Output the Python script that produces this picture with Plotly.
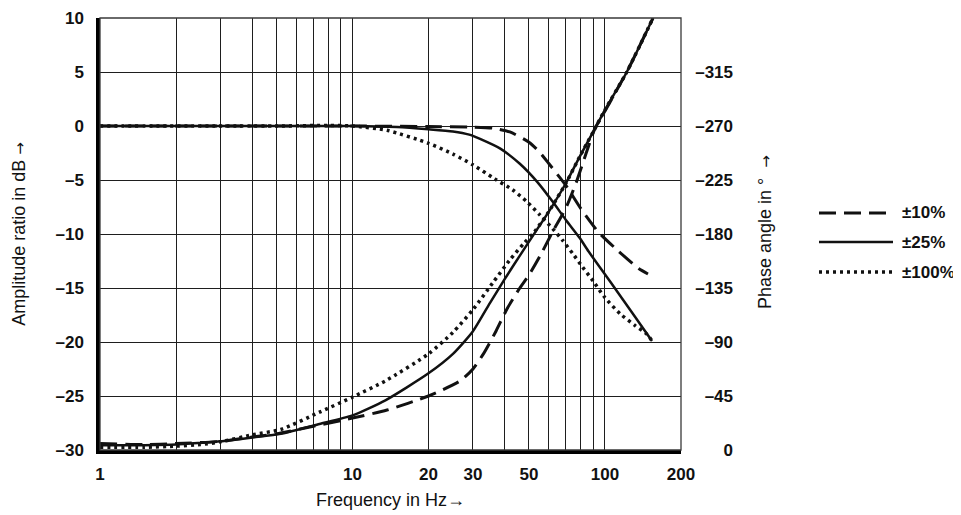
import math
import plotly.graph_objects as go

# ---------------- data ----------------
series_names = ["±10%", "±25%", "±100%"]

# amplitude ratio in dB
freq_amp_10 = [1, 2, 5, 10, 20, 30, 36, 42, 50, 55, 60, 70, 80, 94, 112, 136, 148]
amp_10 = [0, 0, 0, 0, -0.05, -0.1, -0.2, -0.55, -1.5, -2.4, -3.5, -5.5, -7.6, -9.8, -11.5, -13.2, -13.7]

freq_amp_25 = [1, 5, 10, 15, 20, 25, 29, 32, 38.5, 46, 54, 62, 70, 79.6, 86, 107, 130, 153.5]
amp_25 = [0, 0, 0, -0.1, -0.3, -0.5, -0.8, -1.2, -2.1, -3.5, -5.2, -7.0, -8.7, -10.4, -11.6, -14.7, -17.5, -19.9]

freq_amp_100 = [1, 5, 8, 10, 13.7, 20, 25, 30, 36.6, 43, 49, 55, 62, 68, 75, 80, 90, 100, 115, 132, 147, 153.5]
amp_100 = [0, 0, 0.05, 0, -0.4, -1.6, -2.6, -3.6, -4.9, -5.9, -7.0, -8.2, -9.5, -10.6, -11.9, -12.8, -14.4, -15.9, -17.4, -18.5, -19.3, -19.9]

# phase angle in degrees
freq_ph_10 = [1, 1.5, 2, 3, 4, 5, 7, 10, 13.7, 20, 26.7, 30, 33, 37, 41, 46, 50, 56, 62, 70, 77, 84, 91, 100, 122, 155]
phase_10 = [-5.4, -4.5, -5.4, -7.2, -10.8, -13.5, -19.8, -26.6, -33.3, -45, -57.6, -67.5, -80.1, -99,
            -117.9, -135, -145.8, -163.8, -181.8, -201.6, -223.2, -246.6, -267.3, -282.6, -315, -360]

freq_ph_25 = [1, 1.5, 2, 2.5, 3, 4, 5.2, 7.4, 10, 13.5, 20, 25, 30, 35, 40, 46, 52, 60, 70, 80, 90, 100, 122, 155]
phase_25 = [-4.0, -4.0, -4.5, -5.9, -7.2, -10.4, -13.5, -21.6, -28.8, -41.4, -63.9, -80.1, -99, -122.4,
            -142.2, -162, -179.1, -198.9, -222.3, -245.7, -265.5, -283.5, -315, -360]

freq_ph_100 = [1, 1.5, 2, 2.5, 3, 4, 5.2, 7.4, 10, 13.5, 20, 25, 30, 36, 42, 48, 52, 60, 70, 80, 90, 100, 122, 155]
phase_100 = [-2.3, -2.3, -3.2, -4.5, -6.8, -12.6, -17.1, -31.5, -44.1, -57.6, -80.1, -98.1, -117, -139.5,
             -158.4, -172.8, -180.5, -198.9, -222.3, -245.7, -265.5, -283.5, -315, -360]

# axis ticks
x_tick_vals = [1, 10, 20, 30, 50, 100, 200]
x_tick_text = ["1", "10", "20", "30", "50", "100", "200"]
x_minor_vals = [2, 3, 4, 5, 6, 7, 8, 9, 40, 60, 70, 80, 90]
db_tick_vals = [-30, -25, -20, -15, -10, -5, 0, 5, 10]
db_tick_text = ["–30", "–25", "–20", "–15", "–10", "–5", "0", "5", "10"]
phase_tick_vals = [0, -45, -90, -135, -180, -225, -270, -315]
phase_tick_text = ["0", "–45", "–90", "–135", "–180", "–225", "–270", "–315"]

# ---------------- styling ----------------
FONT = "Liberation Sans Narrow, Arial Narrow, Liberation Sans, Arial, sans-serif"
INK = "#111111"
GRID = "#1e1e1e"
dash_styles = ["17px,8px", "solid", "3px,4px"]
line_widths = [3, 2.5, 3.5]
ARROW = '<span style="font-family:DejaVu Sans;font-size:15px">→</span>'

W, H = 961, 515
OFF = 8                     # page offset of the figure (browser body margin)
# plotting-area edges, in screenshot pixels
PL, PR, PT, PB = 100, 681, 18, 450
ML = PL - OFF
MT = PT - OFF
MB = H - (PB - OFF)
MR = 4
PW = W - ML - MR            # paper width
PH = H - MT - MB            # paper height
x_dom_end = (PR - PL) / PW


def px_x(px):
    return (px - OFF - ML) / PW


def px_y(py):
    return (H - MB - (py - OFF)) / PH


fig = go.Figure()

amp_sets = [(freq_amp_10, amp_10), (freq_amp_25, amp_25), (freq_amp_100, amp_100)]
ph_sets = [(freq_ph_10, phase_10), (freq_ph_25, phase_25), (freq_ph_100, phase_100)]

for i, (f, a) in enumerate(amp_sets):
    fig.add_trace(go.Scatter(
        x=f, y=a, mode="lines", name=series_names[i], showlegend=False,
        line=dict(color=INK, width=line_widths[i], dash=dash_styles[i], shape="spline", smoothing=0.6),
        xaxis="x", yaxis="y"))

for i, (f, p) in enumerate(ph_sets):
    fig.add_trace(go.Scatter(
        x=f, y=p, mode="lines", name=series_names[i], showlegend=False,
        line=dict(color=INK, width=line_widths[i], dash=dash_styles[i], shape="spline", smoothing=0.6),
        xaxis="x", yaxis="y2"))

tick_font = dict(family=FONT, size=17, color=INK, weight="bold")
title_font = dict(family=FONT, size=18, color=INK)

fig.update_layout(
    width=W, height=H,
    margin=dict(l=ML, r=MR, t=MT, b=MB, pad=0, autoexpand=False),
    paper_bgcolor="white", plot_bgcolor="white",
    showlegend=False,
    xaxis=dict(
        type="log", range=[0, math.log10(200)], domain=[0, x_dom_end],
        tickmode="array", tickvals=x_tick_vals, ticktext=x_tick_text,
        tickfont=tick_font, ticks="", ticklabelstandoff=6, ticklabeloverflow="allow",
        showgrid=True, gridcolor=GRID, gridwidth=1.3,
        minor=dict(tickmode="array", tickvals=x_minor_vals, showgrid=True,
                   gridcolor=GRID, gridwidth=1.3, ticks=""),
        showline=True, linecolor="black", linewidth=3.5,
        zeroline=False, automargin=False,
        title=dict(text="Frequency in Hz→", font=title_font, standoff=11),
        anchor="y",
    ),
    yaxis=dict(
        range=[-30, 10], tickmode="array", tickvals=db_tick_vals, ticktext=db_tick_text,
        tickfont=tick_font, ticks="", ticklabelstandoff=9, ticklabeloverflow="allow",
        showgrid=True, gridcolor=GRID, gridwidth=1.3,
        showline=True, linecolor="black", linewidth=3.5,
        zeroline=False, automargin=False,
        title=dict(text="Amplitude ratio in dB " + ARROW, font=title_font, standoff=26),
        anchor="x",
    ),
    yaxis2=dict(
        range=[0, -360], overlaying="y", side="left", anchor="free",
        position=px_x(733),
        tickmode="array", tickvals=phase_tick_vals, ticktext=phase_tick_text,
        tickfont=tick_font, ticks="", ticklabelstandoff=0, ticklabeloverflow="allow",
        showgrid=False, zeroline=False, showline=False, automargin=False,
    ),
)

# thin frame (top and right edges) of the plotting area
fig.add_shape(type="rect", xref="x domain", yref="y domain", x0=0, x1=1, y0=0, y1=1,
              line=dict(color="#3a3a3a", width=1.3), layer="above")

# right axis title
fig.add_annotation(text="Phase angle in °  " + ARROW, xref="paper", yref="paper",
                   x=px_x(765), y=px_y(232), textangle=-90, showarrow=False,
                   font=title_font, xanchor="center", yanchor="middle")

# legend (drawn manually for long line samples)
legend_rows_px = [213, 242, 272]
for i, name in enumerate(series_names):
    yy = px_y(legend_rows_px[i])
    fig.add_shape(type="line", xref="paper", yref="paper",
                  x0=px_x(819), x1=px_x(893), y0=yy, y1=yy,
                  line=dict(color=INK, width=line_widths[i], dash=dash_styles[i]))
    fig.add_annotation(text=name, xref="paper", yref="paper", x=px_x(900), y=yy,
                       xanchor="left", yanchor="middle", showarrow=False,
                       font=dict(family=FONT, size=17, color=INK, weight="bold"))

fig.write_html("out.html")
